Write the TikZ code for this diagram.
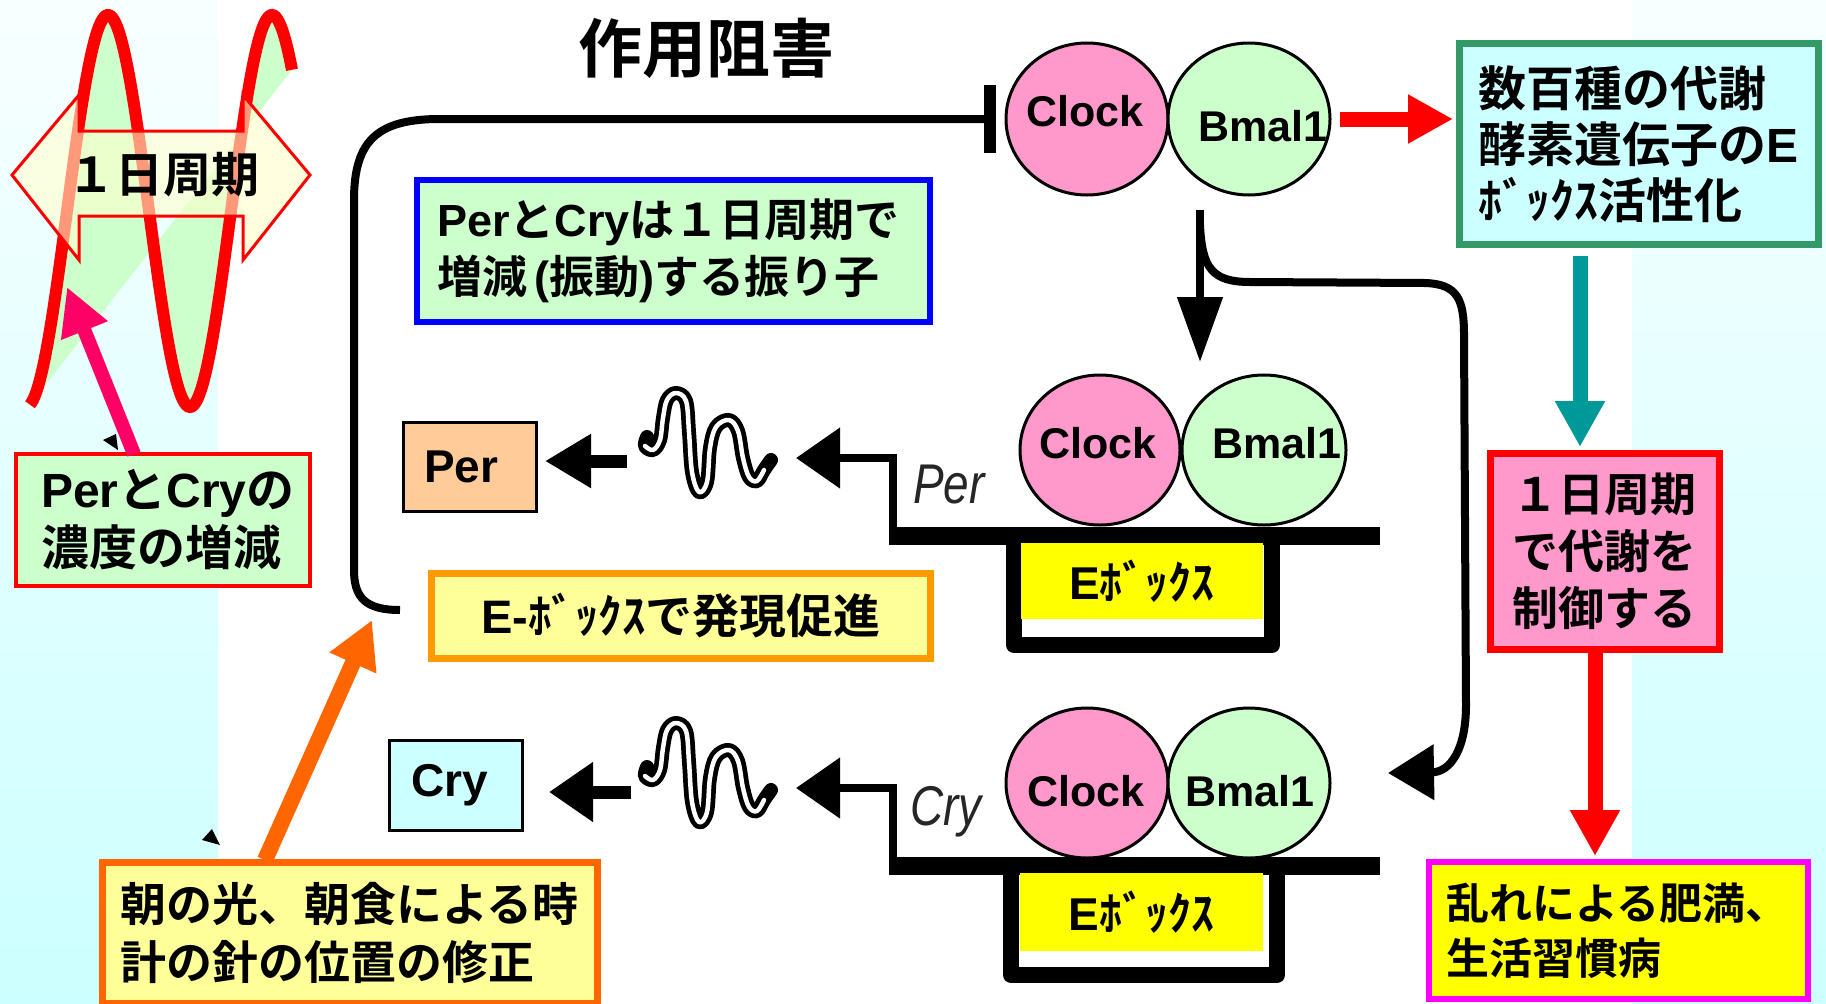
\documentclass[tikz,border=0pt]{standalone}
\usepackage{fontspec}
\setmainfont{Liberation Sans}
\newfontfamily\jpf{Noto Sans CJK JP}[BoldFont={Noto Sans CJK JP Bold}]
\usetikzlibrary{arrows.meta,shapes.geometric}

\definecolor{panelTop}{HTML}{F8FFFF}
\definecolor{panelBot}{HTML}{CCFFFF}
\definecolor{waveGreen}{HTML}{CCFFCC}
\definecolor{paleYel}{HTML}{FFFFCC}
\definecolor{hotPink}{HTML}{FF0066}
\definecolor{clockPink}{HTML}{FF99CC}
\definecolor{mint}{HTML}{CCFFCC}
\definecolor{cyanPale}{HTML}{CCFFFF}
\definecolor{creamYel}{HTML}{FFFF99}
\definecolor{peach}{HTML}{FFCC99}
\definecolor{seaGreen}{HTML}{339966}
\definecolor{tealArrow}{HTML}{009999}
\definecolor{orangeA}{HTML}{FF9900}
\definecolor{orangeB}{HTML}{FF6600}
\definecolor{pureMagenta}{HTML}{FF00FF}
\definecolor{pureYellow}{HTML}{FFFF00}

% Japanese runs inside Latin text
\newcommand\J[1]{{\jpf #1}}

\begin{document}
\begin{tikzpicture}[x=1pt,y=-1pt,
  fnt/.style 2 args={font=\bfseries\fontsize{#1}{#2}\selectfont},
  tbox/.style={draw, line width=#1, inner sep=0pt, align=left},
  ovl/.style={draw, line width=3pt, shape=ellipse, inner sep=0pt},
  lbl/.style={inner sep=0pt, fnt={43}{46}},
  wire/.style={line width=8pt},
  gene/.style={inner sep=0pt, font=\fontsize{56}{56}\selectfont\itshape, text=black!85},
  eyel/.style={fill=pureYellow, inner sep=0pt, fnt={46}{50}},
  tube/.style={line width=14pt, line cap=round, line join=round},
  tubecore/.style={white, line width=4.5pt, line cap=round, line join=round}
]
\useasboundingbox (0,0) rectangle (1826,1004);

% side panels
\shade[top color=panelTop, bottom color=panelBot] (0,0) rectangle (218,1004);
\shade[top color=panelTop, bottom color=panelBot] (1632,0) rectangle (1826,1004);

% daily oscillation curve (period 164, degrees per unit 360/164)
\fill[waveGreen] plot[domain=30:292,samples=160] (\x,{211-196*cos(2.19512*(\x-108))}) -- cycle;
\draw[red, line width=12pt] plot[domain=30:292,samples=160] (\x,{211-196*cos(2.19512*(\x-108))});

% double-headed period arrow
\fill[paleYel, opacity=0.6] (12,175) -- (79,95) -- (79,131) -- (243,131) -- (243,95) -- (310,175)
  -- (243,260) -- (243,216) -- (79,216) -- (79,260) -- cycle;
\draw[red, line width=3pt, line join=miter] (12,175) -- (79,95) -- (79,131) -- (243,131) -- (243,95) -- (310,175)
  -- (243,260) -- (243,216) -- (79,216) -- (79,260) -- cycle;
\node[fnt={48}{50}, inner sep=0pt] (period) at (163,175) {\J{１日周期}};

% small stray arrow tips
\fill (103,440) -- (116,434) -- (118,450) -- cycle;
\fill (212,829) -- (202,840) -- (220,845) -- cycle;

% concentration box and its pointer
\node[tbox=4pt, draw=red, fill=mint, minimum width=294pt, minimum height=132pt, text width=244pt, fnt={48}{58}]
  (conc) at (163,520) {Per\J{と}Cry\J{の}\\\J{濃度の増減}};
\coordinate (pinkfoot) at (134,454);
\coordinate (pinktip) at (67,287);
\draw[hotPink, line width=14pt, -{Triangle[length=47pt,width=47pt]}] (pinkfoot) -- (pinktip);

% title
\node[fnt={64}{70}, inner sep=0pt] (title) at (706,48) {\J{作用阻害}};

% oscillator note
\node[tbox=6pt, draw=blue, fill=mint, minimum width=513pt, minimum height=142pt, text width=473pt, fnt={45}{57}]
  (osc) at (673.5,251) {Per\J{と}Cry\J{は１日周期で}\\\J{増減}\,(\J{振動}){\J{する振り子}}};

% top Clock/Bmal1 complex
\node[ovl, fill=clockPink, minimum width=162pt, minimum height=152pt] (c1) at (1087,119) {};
\node[ovl, fill=mint, minimum width=162pt, minimum height=152pt] (b1) at (1249,119) {};
\node[lbl] (c1t) at (1085,111) {Clock};
\node[lbl] (b1t) at (1263,126) {Bmal1};

% feedback inhibition line
\coordinate (inhstart) at (400,610);
\draw[wire, -{Bar[width=68pt,line width=12pt]}] (inhstart) .. controls (366,610) and (354,598) .. (354,570)
  -- (354,200) .. controls (354,140) and (378,119) .. (440,119) -- ([xshift=-9pt]c1.west);

% activation of target genes
\node[tbox=7pt, draw=seaGreen, fill=cyanPale, minimum width=359pt, minimum height=201pt, text width=322pt, fnt={48}{56}]
  (gbox) at (1639,144) {\J{数百種の代謝}\\\J{酵素遺伝子の}E\\\J{ﾎﾞｯｸｽ活性化}};
\coordinate (redstart) at ([xshift=8pt]b1.east);
\draw[red, line width=15pt, -{Triangle[length=45pt,width=46pt]}] (redstart) -- ([xshift=-3pt]redstart -| gbox.west);

\node[tbox=7pt, draw=red, fill=clockPink, minimum width=229pt, minimum height=196pt, text width=186pt, fnt={46}{57}]
  (pbox) at (1605,551.5) {\J{１日周期}\\\J{で代謝を}\\\J{制御する}};
\coordinate (tealtop) at (1580,256);
\draw[tealArrow, line width=15pt, -{Triangle[length=46pt,width=47pt]}] (tealtop) -- ([yshift=3pt]tealtop |- pbox.north);

\node[tbox=6pt, draw=pureMagenta, fill=pureYellow, minimum width=379pt, minimum height=137pt, text width=345pt, fnt={43}{55}]
  (mbox) at (1618.5,930.5) {\J{乱れによる肥満、}\\\J{生活習慣病}};
\coordinate (redtop) at (1595,649);
\draw[red, line width=15pt, -{Triangle[length=46pt,width=47pt]}] (redtop) -- ([yshift=3pt]redtop |- mbox.north);

% downward activation and branch to the second gene
\coordinate (dnstart) at (1200,210);
\coordinate (dntip) at (1200,362);
\draw[wire, -{Triangle[length=65pt,width=44pt]}] (dnstart) -- (dntip);
\coordinate (brstart) at (1200,225);
\coordinate (brtip) at (1388,773);
\draw[wire, -{Triangle[length=46pt,width=54pt]}] (brstart) .. controls (1202,268) and (1212,282) .. (1250,282)
  -- (1425,283) .. controls (1458,284) and (1464,300) .. (1464,335) -- (1466,705)
  .. controls (1466,750) and (1450,772) .. (brtip);

% ---------- Per gene ----------
\draw[line width=18pt] (889,536) -- (1380,536);
\draw[line width=16pt, line join=round] (1014,536) -- (1014,645) -- (1272,645) -- (1272,536);
\node[eyel, minimum width=242pt, minimum height=76pt] (ebox1) at (1142,581) {E\J{ﾎﾞｯｸｽ}};
\node[ovl, fill=clockPink, minimum width=160pt, minimum height=150pt] (c2) at (1100,450) {};
\node[ovl, fill=mint, minimum width=164pt, minimum height=150pt] (b2) at (1264,450) {};
\node[lbl] (c2t) at (1098,443) {Clock};
\node[lbl] (b2t) at (1277,443) {Bmal1};
\node[gene] (pergene) at (949,485) {\scalebox{0.82}[1]{Per}};

\coordinate (perdna) at (893,536);
\coordinate (perjoint) at (893,458);
\coordinate (permr) at (796,458);
\draw[wire, -{Triangle[length=44pt,width=59pt]}] (perdna) -- (perjoint) -- (permr);

\draw[tube] plot[smooth, tension=0.6] coordinates {(647,437) (645,446) (653,450) (660,440) (663,418) (667,400)
  (676,393) (686,401) (689,432) (692,472) (699,492) (707,482) (710,448) (716,427) (729,420) (738,431)
  (743,458) (749,477) (757,481) (764,470) (771,460)};
\draw[tubecore] plot[smooth, tension=0.6] coordinates {(645,446) (653,450) (660,440) (663,418) (667,400)
  (676,393) (686,401) (689,432) (692,472) (699,492) (707,482) (710,448) (716,427) (729,420) (738,431)
  (743,458) (749,477) (757,481) (764,470)};

\node[tbox=3pt, draw=black, fill=peach, minimum width=133pt, minimum height=89pt, text width=92pt, fnt={46}{50}]
  (perbox) at (470,467) {Per};
\coordinate (perml) at (627,461);
\draw[line width=13pt, -{Triangle[length=46pt,width=51pt]}, shorten >=7pt] (perml) -- (perml -| perbox.east);

\node[tbox=7pt, draw=orangeA, fill=creamYel, minimum width=499pt, minimum height=85pt, align=center, fnt={47}{50}]
  (ebnote) at (681,616) {E-\J{ﾎﾞｯｸｽで発現促進}};

% ---------- Cry gene ----------
\draw[line width=18pt] (889,866) -- (1380,866);
\draw[line width=16pt, line join=round] (1011,866) -- (1011,975) -- (1277,975) -- (1277,866);
\node[eyel, minimum width=243pt, minimum height=78pt] (ebox2) at (1141.5,912) {E\J{ﾎﾞｯｸｽ}};
\node[ovl, fill=clockPink, minimum width=162pt, minimum height=150pt] (c3) at (1087,783) {};
\node[ovl, fill=mint, minimum width=162pt, minimum height=150pt] (b3) at (1249,783) {};
\node[lbl] (c3t) at (1086,791) {Clock};
\node[lbl] (b3t) at (1250,791) {Bmal1};
\node[gene] (crygene) at (946,812) {\scalebox{0.82}[1]{Cry}};

\coordinate (crydna) at (893,866);
\coordinate (cryjoint) at (893,788);
\coordinate (crymr) at (796,788);
\draw[wire, -{Triangle[length=44pt,width=59pt]}] (crydna) -- (cryjoint) -- (crymr);

\begin{scope}[shift={(0,330)}]
\draw[tube] plot[smooth, tension=0.6] coordinates {(647,437) (645,446) (653,450) (660,440) (663,418) (667,400)
  (676,393) (686,401) (689,432) (692,472) (699,492) (707,482) (710,448) (716,427) (729,420) (738,431)
  (743,458) (749,477) (757,481) (764,470) (771,460)};
\draw[tubecore] plot[smooth, tension=0.6] coordinates {(645,446) (653,450) (660,440) (663,418) (667,400)
  (676,393) (686,401) (689,432) (692,472) (699,492) (707,482) (710,448) (716,427) (729,420) (738,431)
  (743,458) (749,477) (757,481) (764,470)};
\end{scope}

\node[tbox=3pt, draw=black, fill=cyanPale, minimum width=133pt, minimum height=90pt, text width=90pt, fnt={46}{50}]
  (crybox) at (456,785.5) {Cry};
\coordinate (cryml) at (631,792);
\draw[line width=13pt, -{Triangle[length=44pt,width=57pt]}, shorten >=25pt] (cryml) -- (cryml -| crybox.east);

% morning reset box
\node[tbox=7pt, draw=orangeB, fill=creamYel, minimum width=495pt, minimum height=140.5pt, text width=460pt, fnt={46}{58}]
  (mornbox) at (350,932.75) {\J{朝の光、朝食による時}\\\J{計の針の位置の修正}};
\coordinate (orfoot) at (265,860);
\coordinate (ortip) at (372,620);
\draw[orangeB, line width=16pt, -{Triangle[length=47pt,width=48pt]}] (orfoot) -- (ortip);

\end{tikzpicture}
\end{document}
